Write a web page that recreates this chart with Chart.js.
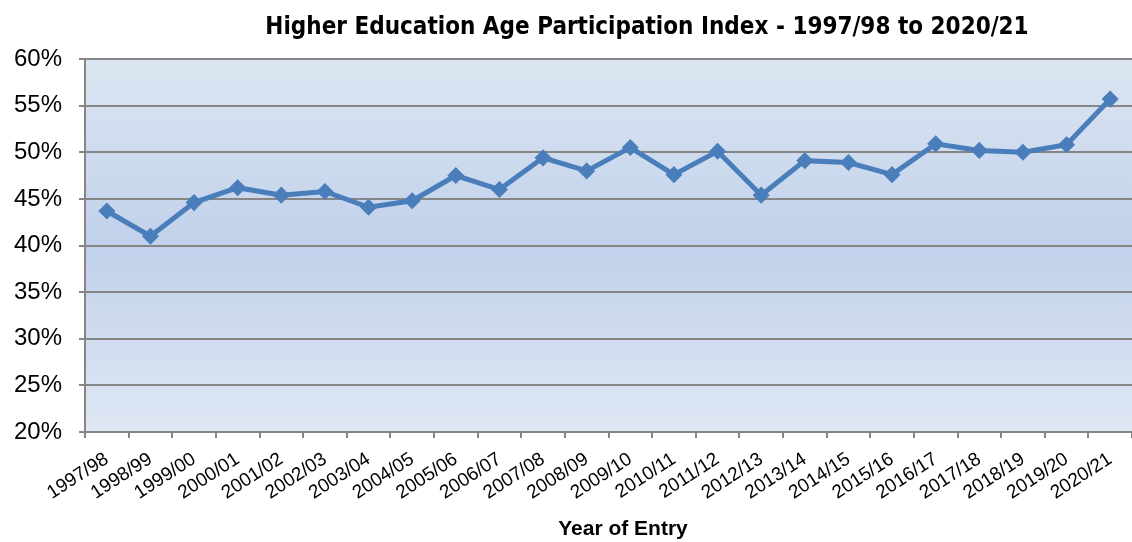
<!DOCTYPE html>
<html>
<head>
<meta charset="utf-8">
<script src="https://cdn.jsdelivr.net/npm/chart.js@4.4.1/dist/chart.umd.min.js"></script>
<style>
  html, body { margin: 0; padding: 0; background: #fff; }
  #wrap { width: 1132px; height: 542px; }
</style>
</head>
<body>
<div id="wrap"><canvas id="apiChart" width="1132" height="542"></canvas></div>
<script>
const categories = ["1997/98", "1998/99", "1999/00", "2000/01", "2001/02", "2002/03", "2003/04", "2004/05",
  "2005/06", "2006/07", "2007/08", "2008/09", "2009/10", "2010/11", "2011/12", "2012/13",
  "2013/14", "2014/15", "2015/16", "2016/17", "2017/18", "2018/19", "2019/20", "2020/21"];
const participation = [43.7, 41.0, 44.6, 46.2, 45.4, 45.8, 44.1, 44.8, 47.5, 46.0, 49.4, 48.0,
  50.5, 47.6, 50.1, 45.4, 49.1, 48.9, 47.6, 50.9, 50.2, 50.0, 50.8, 55.7];
const yTicks = [20, 25, 30, 35, 40, 45, 50, 55, 60];

const chartTitle = "Higher Education Age Participation Index - 1997/98 to 2020/21";
const xTitle = "Year of Entry";

// plot area gradient, chart title and axis title
const decor = {
  id: "decor",
  beforeDraw(chart) {
    const { ctx, chartArea: a } = chart;
    const g = ctx.createLinearGradient(0, a.top, 0, a.bottom);
    g.addColorStop(0, "#dce6f2");
    g.addColorStop(0.5, "#c1d1eb");
    g.addColorStop(1, "#dfe7f3");
    ctx.save();
    ctx.fillStyle = g;
    ctx.fillRect(a.left, a.top, a.right - a.left, a.bottom - a.top);
    ctx.restore();
  },
  afterDraw(chart) {
    const ctx = chart.ctx;
    ctx.save();
    ctx.fillStyle = "#000";
    ctx.textAlign = "center";
    ctx.textBaseline = "middle";
    ctx.font = "bold 24px 'Liberation Sans Narrow', 'DejaVu Sans Condensed', sans-serif";
    ctx.fillText(chartTitle, 647, 28);
    ctx.font = "bold 21px 'Liberation Sans', Arial, sans-serif";
    ctx.fillText(xTitle, 623, 529);
    ctx.restore();
  }
};

new Chart(document.getElementById("apiChart"), {
  type: "line",
  data: {
    labels: categories,
    datasets: [{
      label: "Participation",
      data: participation,
      borderColor: "#4a7ebb",
      backgroundColor: "#4a7ebb",
      borderWidth: 5,
      pointStyle: "rectRot",
      pointRadius: 5,
      pointHoverRadius: 5,
      tension: 0
    }]
  },
  options: {
    responsive: false,
    animation: false,
    layout: { autoPadding: false, padding: { top: 59, right: 0, bottom: 0, left: 0 } },
    plugins: { legend: { display: false }, tooltip: { enabled: false } },
    scales: {
      x: {
        offset: true,
        grid: { offset: true, drawOnChartArea: false, drawTicks: true, tickLength: 6, color: "#868686", lineWidth: 2 },
        border: { color: "#868686", width: 2 },
        ticks: {
          color: "#000",
          font: { family: "'Liberation Sans', Arial, sans-serif", size: 19 },
          minRotation: 33, maxRotation: 33, autoSkip: false, padding: 10
        },
        afterFit(scale) {
          scale.height = 110;
          scale.paddingRight = 0;
        }
      },
      y: {
        min: 20, max: 60,
        afterBuildTicks(scale) { scale.ticks = yTicks.map(v => ({ value: v })); },
        grid: { color: "#868686", lineWidth: 2, tickLength: 6 },
        border: { color: "#868686", width: 2 },
        ticks: {
          color: "#000",
          font: { family: "'Liberation Sans', Arial, sans-serif", size: 24 },
          padding: 17,
          callback: v => v + "%"
        },
        afterFit(scale) { scale.width = 85; }
      }
    }
  },
  plugins: [decor]
});
</script>
</body>
</html>
